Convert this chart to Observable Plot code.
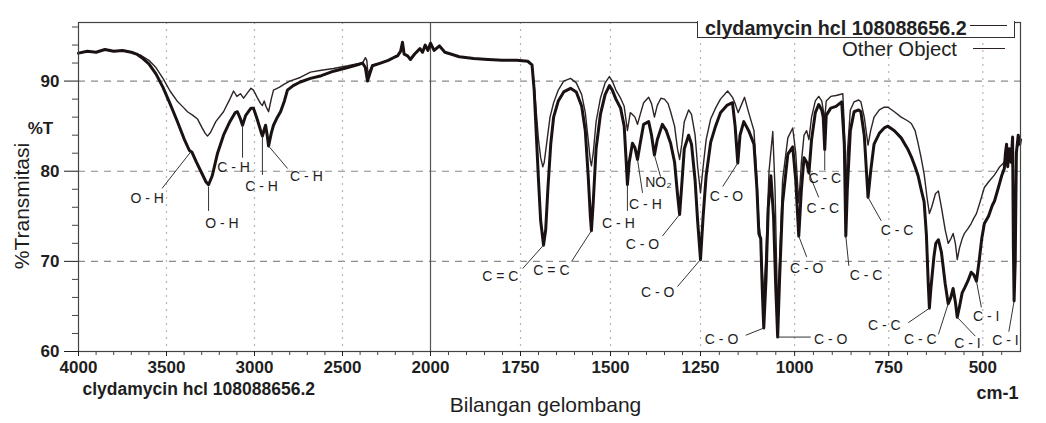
<!DOCTYPE html>
<html><head><meta charset="utf-8">
<script src="https://cdn.jsdelivr.net/npm/d3@7"></script>
<script src="https://cdn.jsdelivr.net/npm/@observablehq/plot@0.6"></script>
<style>
body{margin:0;background:#fff;font-family:"Liberation Sans",Arial,sans-serif;}
#wrap{position:relative;width:1046px;height:423px;overflow:hidden;}
#legend1{position:absolute;left:697px;top:21px;width:316px;height:16px;border:1px solid #333;border-top:none;background:#fff;}
.lt{position:absolute;white-space:nowrap;color:#222;line-height:1;}
.ls{position:absolute;height:0;border-top:1.5px solid #2a2222;}
</style></head><body>
<div id="wrap"></div>
<script>
// ---- series: [wavenumber cm-1, %T] ----
const sample = [
[4000,93.1],[3950,93.3],[3900,93.2],[3850,93.5],[3800,93.3],[3750,93.4],[3700,93.2],[3670,93.0],[3640,92.6],[3600,91.9],
[3560,90.8],[3520,89.3],[3480,87.5],[3440,85.6],[3400,83.6],[3370,82.3],[3355,82.1],[3330,81.0],[3300,79.8],[3275,78.8],
[3261,78.5],[3240,79.5],[3210,82.0],[3176,84.0],[3140,85.5],[3110,86.5],[3097,86.6],[3080,85.8],[3068,85.1],[3050,86.2],
[3020,87.0],[3006,87.0],[2985,85.8],[2965,84.5],[2955,83.9],[2945,84.6],[2937,85.1],[2928,84.0],[2920,82.8],[2905,84.2],
[2892,85.1],[2870,86.0],[2852,86.6],[2830,87.8],[2813,89.0],[2780,89.5],[2740,89.9],[2682,90.3],[2620,90.6],[2551,91.1],
[2470,91.5],[2400,91.9],[2386,92.0],[2370,91.5],[2358,90.0],[2345,90.8],[2330,91.7],[2284,92.0],[2240,92.3],[2200,92.7],
[2187,92.8],[2170,93.3],[2159,94.3],[2150,93.0],[2130,92.8],[2114,92.4],[2090,93.0],[2060,93.6],[2045,93.2],[2030,94.0],
[2015,93.4],[2000,94.2],[1990,93.4],[1975,93.9],[1960,93.2],[1944,93.0],[1920,92.7],[1880,92.5],[1840,92.4],[1800,92.3],
[1760,92.3],[1730,92.2],[1718,91.8],[1712,89.0],[1706,84.0],[1700,79.0],[1694,74.5],[1686,71.8],[1680,73.5],[1674,78.0],
[1666,83.0],[1658,86.0],[1645,87.8],[1630,88.8],[1611,89.2],[1595,88.8],[1580,87.2],[1570,84.5],[1562,79.5],[1556,75.0],
[1553,73.4],[1548,76.5],[1540,82.5],[1528,86.3],[1515,88.5],[1503,89.5],[1495,89.0],[1485,88.0],[1472,87.0],[1462,85.0],
[1457,81.5],[1453,78.5],[1448,81.0],[1439,83.1],[1432,82.6],[1425,81.3],[1418,83.0],[1408,85.2],[1394,85.5],[1386,84.0],
[1378,81.8],[1370,83.5],[1356,85.2],[1345,84.5],[1333,83.1],[1322,81.0],[1314,77.5],[1308,75.2],[1302,78.5],[1295,82.5],
[1283,84.0],[1275,83.0],[1265,79.0],[1258,74.5],[1250,70.2],[1243,75.0],[1235,79.5],[1223,83.2],[1210,85.0],[1197,86.5],
[1180,87.3],[1165,87.6],[1158,85.0],[1151,80.9],[1145,84.0],[1135,85.5],[1122,84.5],[1108,83.0],[1100,78.0],[1095,73.1],
[1090,72.5],[1086,67.0],[1082,62.6],[1076,68.0],[1070,76.0],[1063,79.5],[1056,75.0],[1050,67.0],[1045,61.6],[1040,68.0],
[1032,76.5],[1018,81.9],[1005,82.7],[997,79.0],[989,72.8],[982,78.0],[975,81.5],[968,81.0],[962,79.8],[955,83.5],
[945,86.5],[936,87.4],[928,86.8],[924,86.0],[920,82.4],[916,86.2],[904,87.0],[890,87.2],[875,87.7],[868,83.0],
[864,72.8],[860,78.0],[852,84.5],[842,86.6],[830,86.8],[824,86.6],[815,84.0],[805,77.1],[798,80.0],[789,83.0],
[775,84.2],[762,84.8],[752,85.0],[735,84.5],[717,83.7],[700,82.5],[690,81.6],[680,80.5],[672,79.5],[664,78.0],
[656,76.6],[650,73.0],[645,67.5],[642,64.8],[638,67.0],[630,70.5],[625,72.0],[618,72.4],[610,71.0],[600,67.5],
[592,65.3],[585,66.0],[579,67.0],[573,65.5],[568,63.8],[562,65.0],[555,66.5],[549,67.0],[540,67.8],[531,68.8],
[524,68.5],[517,67.8],[510,70.0],[503,72.5],[496,74.2],[485,75.0],[475,76.2],[469,76.7],[460,78.0],[450,79.5],
[443,80.3],[440,82.0],[437,83.0],[434,80.5],[430,82.5],[425,81.0],[421,83.8],[419,72.0],[417,65.6],[414,70.0],
[411,82.0],[406,84.0],[402,83.0],[400,83.5]
];
const other = [
[4000,93.1],[3950,93.3],[3900,93.2],[3850,93.5],[3800,93.3],[3750,93.4],[3700,93.2],[3670,93.0],[3650,92.9],[3600,92.3],
[3560,91.5],[3520,90.3],[3480,88.9],[3440,87.8],[3400,87.0],[3381,86.6],[3350,86.2],[3324,85.8],[3300,84.9],[3280,84.2],
[3267,83.9],[3250,84.3],[3220,85.5],[3176,86.6],[3140,88.0],[3119,88.9],[3100,88.3],[3080,88.6],[3062,88.1],[3040,88.7],
[3020,89.2],[3006,89.0],[2985,88.2],[2965,87.5],[2955,87.3],[2945,87.8],[2935,87.2],[2920,86.6],[2905,88.0],[2892,89.0],
[2860,89.3],[2835,89.6],[2800,90.0],[2740,90.4],[2682,91.0],[2620,91.2],[2551,91.4],[2470,91.7],[2400,92.0],[2386,92.0],
[2370,92.6],[2362,92.3],[2355,90.8],[2345,91.2],[2330,91.8],[2284,92.0],[2240,92.3],[2200,92.7],[2187,92.8],[2170,93.3],
[2159,94.3],[2150,93.0],[2130,92.8],[2114,92.4],[2090,93.0],[2060,93.6],[2045,93.2],[2030,94.0],[2015,93.4],[2000,94.2],
[1990,93.4],[1975,93.9],[1960,93.2],[1944,93.0],[1920,92.7],[1880,92.5],[1840,92.4],[1800,92.3],[1760,92.3],[1730,92.2],
[1718,91.8],[1712,89.5],[1706,86.5],[1700,83.5],[1694,81.5],[1688,80.5],[1684,81.0],[1676,83.5],[1668,86.0],[1658,87.6],
[1645,89.0],[1630,90.0],[1611,90.3],[1595,89.8],[1580,88.5],[1570,86.5],[1562,83.5],[1556,81.2],[1553,80.6],[1548,82.0],
[1540,85.5],[1528,88.1],[1515,89.8],[1503,90.5],[1495,90.0],[1485,89.0],[1472,88.1],[1462,87.2],[1453,84.5],[1445,86.5],
[1439,86.3],[1432,86.0],[1425,85.2],[1416,86.5],[1408,87.6],[1394,88.2],[1386,87.5],[1378,86.0],[1370,87.3],[1360,88.1],
[1350,88.0],[1340,87.5],[1333,86.6],[1322,85.0],[1314,82.5],[1308,81.3],[1302,83.0],[1295,85.5],[1283,86.8],[1275,86.3],
[1265,84.0],[1258,80.5],[1250,77.6],[1243,80.5],[1235,83.5],[1223,85.8],[1210,87.0],[1197,88.0],[1178,88.9],[1165,88.2],
[1158,87.5],[1150,86.5],[1140,87.5],[1133,88.2],[1122,86.5],[1108,84.5],[1100,79.0],[1095,74.2],[1090,72.5],[1086,69.0],
[1082,66.0],[1076,71.0],[1068,80.0],[1058,84.4],[1052,78.0],[1048,70.0],[1045,64.5],[1040,70.0],[1032,79.0],[1018,83.7],
[1005,84.8],[997,82.0],[989,76.5],[982,81.0],[975,84.0],[968,84.5],[962,83.5],[955,86.0],[945,87.8],[936,88.3],
[928,87.8],[920,85.8],[916,87.8],[904,88.3],[890,88.4],[872,88.6],[868,85.0],[864,77.7],[860,82.0],[852,86.8],
[842,87.7],[830,87.9],[824,87.7],[815,86.0],[805,82.9],[798,84.5],[789,86.0],[775,86.8],[762,87.1],[752,87.1],
[735,86.6],[717,86.0],[700,85.6],[690,85.3],[680,84.5],[672,83.1],[664,81.5],[656,79.7],[648,77.0],[642,75.3],
[636,76.0],[626,77.5],[618,77.8],[610,76.0],[600,73.5],[592,72.0],[585,72.5],[579,73.1],[573,72.0],[568,70.2],
[562,71.5],[555,72.5],[549,73.1],[540,73.6],[531,74.2],[524,74.8],[517,75.3],[508,76.5],[496,78.2],[485,78.8],
[469,79.6],[455,80.5],[443,81.0],[437,82.5],[432,81.0],[425,82.5],[420,80.0],[417,75.0],[414,78.0],[410,82.5],
[405,83.0],[400,83.0]
];
// ---- peak labels: [text, wavenumber, %T] ----
const peakLabels = [
["O - H",3610,77.0],["O - H",3185,74.2],["C - H",3119,80.4],["C - H",2960,78.3],["C - H",2705,79.4],
["C = C",1806,68.3],["C = C",1664,69.0],["C - H",1478,74.2],["C - H",1403,76.3],["NO\u2082",1367,78.7],
["C - O",1411,71.9],["C - O",1369,66.5],["C - O",1181,77.2],["C - C",920,79.2],["C - C",925,75.9],
["C - O",968,69.2],["C - C",728,73.4],["C - C",810,68.4],["C - O",1194,61.3],["C - O",904,61.3],
["C - C",762,62.9],["C - C",666,61.3],["C - I",541,60.9],["C - I",491,63.9],["C - I",440,61.2]
];
// ---- leader lines: [peak wn, peak %T, label wn, label %T] ----
const leaders = [
[3364,82.1,3525,78.1],[3261,78.3,3261,75.6],[3068,85.1,3068,81.5],[2955,83.9,2955,79.6],[2920,82.8,2812,80.3],
[1686,71.8,1744,69.2],[1553,73.4,1608,70.0],[1453,78.5,1453,75.6],[1425,81.3,1411,77.6],[1378,81.8,1361,79.4],
[1308,75.2,1356,72.8],[1250,70.2,1314,67.2],[1151,80.9,1191,78.3],[920,82.4,920,80.1],[962,79.8,936,77.1],
[989,72.8,968,70.5],[805,77.1,770,74.5],[864,72.8,856,69.5],[1082,62.6,1130,61.8],[1045,61.6,957,61.6],
[642,64.8,698,63.2],[592,65.3,618,61.9],[568,63.8,520,61.7],[517,67.8,504,64.9],[417,65.6,431,62.2]
];
// ---- axes ----
const xTicks = [4000,3500,3000,2500,2000,1750,1500,1250,1000,750,500];
const xMinor = [3900,3800,3700,3600,3400,3300,3200,3100,2900,2800,2700,2600,2400,2300,2200,2100,
  1950,1900,1850,1800,1700,1650,1600,1550,1450,1400,1350,1300,1200,1150,1100,1050,950,900,850,800,700,650,600,550,450];
const yTicks = [60,70,80,90];
const yMinor = [62,64,66,68,72,74,76,78,82,84,86,88,92,94,96];
const xGrid = [3500,3000,2500,1750,1500,1250,1000,750,500];
const yGrid = [70,80,90];
const seriesNames = ["clydamycin hcl 108088656.2","Other Object"];
const xTitle = "Bilangan gelombang", yTitle = "%Transmitasi", yUnit = "%T", xUnit = "cm-1";

const ink = "#1e1e1e";
const chart = Plot.plot({
  width: 1046, height: 423,
  marginLeft: 78, marginRight: 26, marginTop: 22, marginBottom: 72,
  style: {fontFamily: "'Liberation Sans', Arial, sans-serif", background: "transparent", color: ink},
  x: {type: "linear", domain: [4000, 2000, 1250, 400], range: [78, 430, 700, 1020]},
  y: {domain: [60, 96.5], range: [351, 22]},
  marks: [
    Plot.ruleY(yGrid, {stroke: "#8c8c8c", strokeDasharray: "7,6", strokeWidth: 1.2}),
    Plot.ruleX(xGrid, {stroke: "#b5b5b5", strokeDasharray: "2,5", strokeWidth: 1.2}),
    Plot.ruleX([2000], {stroke: "#555", strokeWidth: 1.2}),
    Plot.line(other, {x: d => d[0], y: d => d[1], stroke: "#2e2424", strokeWidth: 1.4, strokeLinejoin: "round"}),
    Plot.line(sample, {x: d => d[0], y: d => d[1], stroke: "#1a1212", strokeWidth: 3, strokeLinejoin: "round"}),
    Plot.link(leaders, {x1: d => d[0], y1: d => d[1], x2: d => d[2], y2: d => d[3], stroke: "#333", strokeWidth: 1}),
    Plot.text(peakLabels, {x: d => d[1], y: d => d[2], text: d => d[0], fontSize: 14, fill: ink}),
    Plot.frame({stroke: "#444", strokeWidth: 1.2}),
    Plot.axisX(xTicks, {tickSize: 5, tickPadding: 4, fontSize: 17, fontWeight: "bold", tickFormat: d => String(d), label: null, color: ink}),
    Plot.axisX(xMinor, {tickSize: 4, tickFormat: () => "", label: null, color: "#444"}),
    Plot.axisY(yTicks, {tickSize: 14, tickPadding: 5, fontSize: 17, fontWeight: "bold", label: null, color: ink}),
    Plot.axisY(yMinor, {tickSize: 6, tickFormat: () => "", label: null, color: "#444"}),
    Plot.text([yUnit], {frameAnchor: "top-left", dx: -38, dy: 106, textAnchor: "middle", lineAnchor: "middle", text: d => d, fontSize: 17, fontWeight: "bold", fill: ink}),
    Plot.text([yTitle], {frameAnchor: "left", dx: -56, dy: 19, rotate: -90, textAnchor: "middle", lineAnchor: "middle", text: d => d, fontSize: 21, fill: ink}),
    Plot.text([seriesNames[0]], {frameAnchor: "bottom-left", dx: 4, dy: 38, textAnchor: "start", lineAnchor: "middle", text: d => d, fontSize: 17.5, fontWeight: "bold", fill: ink}),
    Plot.text([xTitle], {frameAnchor: "bottom", dx: -4, dy: 54, textAnchor: "middle", lineAnchor: "middle", text: d => d, fontSize: 21, fill: ink}),
    Plot.text([xUnit], {frameAnchor: "bottom-right", dx: -2, dy: 42, textAnchor: "end", lineAnchor: "middle", text: d => d, fontSize: 18, fontWeight: "bold", fill: ink})
  ]
});
const wrap = document.getElementById("wrap");
wrap.appendChild(chart);
// legend
const lg = document.createElement("div");
lg.innerHTML = `<div id="legend1"></div>
<div class="lt" style="left:705px;top:19px;font-size:19.7px;font-weight:bold;">${seriesNames[0]}</div>
<div class="ls" style="left:970px;top:25px;width:37px;"></div>
<div class="lt" style="right:89px;top:39px;font-size:20.3px;">${seriesNames[1]}</div>
<div class="ls" style="left:973px;top:48px;width:32px;"></div>`;
wrap.appendChild(lg);
</script></body></html>
